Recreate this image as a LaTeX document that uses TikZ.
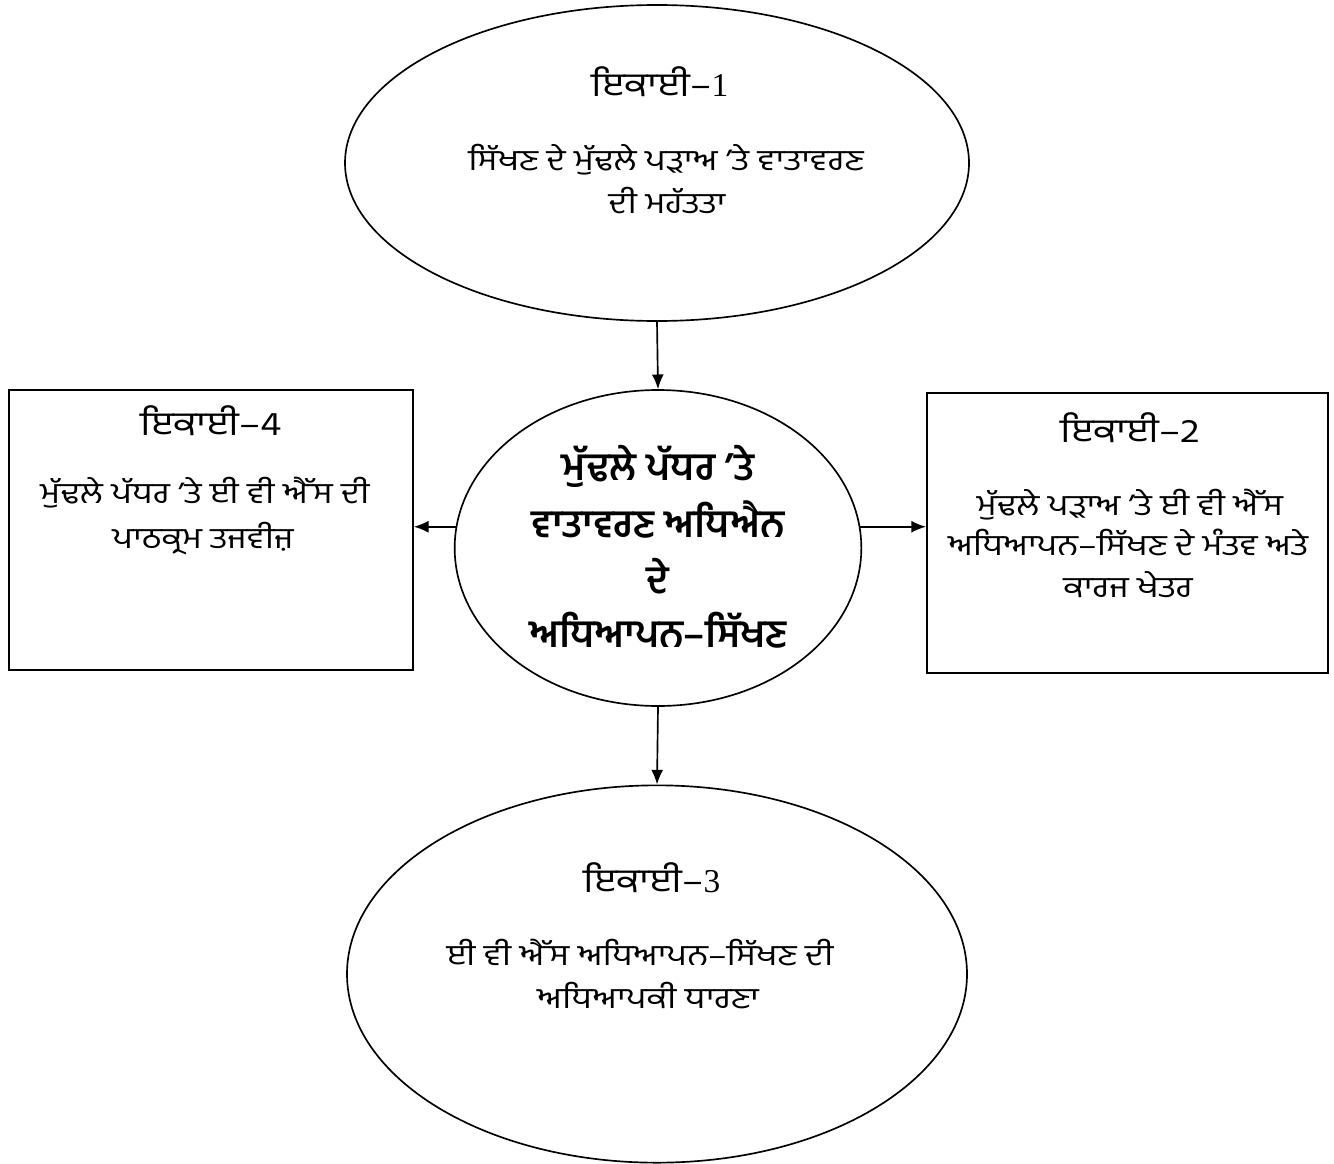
\documentclass[tikz,border=0pt]{standalone}
\usepackage{fontspec}
\setmainfont{Liberation Serif}
\newfontfamily\pa[Script=Gurmukhi,FakeStretch=1.18]{Hind Jalandhar}
\newfontfamily\pab[Script=Gurmukhi]{Hind Jalandhar}
\newfontfamily\ser{Liberation Serif}
\usetikzlibrary{shapes.geometric,arrows.meta}
\begin{document}
\begin{tikzpicture}[x=0.75pt,y=-0.75pt,
  ell/.style={draw,ellipse,line width=1.25pt,inner sep=0pt},
  boxx/.style={draw,rectangle,line width=1.25pt,inner sep=0pt},
  head/.style={font=\pa\fontsize{25}{30}\selectfont,inner sep=0pt,anchor=base},
  body/.style={font=\pa\fontsize{22}{26}\selectfont,inner sep=0pt,anchor=base},
  bold/.style={font=\pab\bfseries\fontsize{29}{33}\selectfont,inner sep=0pt,anchor=base},
  arr/.style={-{Latex[length=11pt,width=9pt]},line width=1.25pt}]
\useasboundingbox (0,0) rectangle (1334,1163);
% shapes
\node[ell,minimum width=468pt,minimum height=237pt] (u1) at (657,163) {};
\node[ell,minimum width=305pt,minimum height=237pt] (c) at (658,548) {};
\node[ell,minimum width=465pt,minimum height=283pt] (u3) at (657,974) {};
\node[boxx,minimum width=303pt,minimum height=210pt] (u4) at (211,530) {};
\node[boxx,minimum width=301pt,minimum height=210pt] (u2) at (1127.5,533) {};
% top
\node[head] (u1h) at (660,97) {ਇਕਾਈ–{\ser 1}};
\node[body] (u1a) at (666,170) {ਸਿੱਖਣ ਦੇ ਮੁੱਢਲੇ ਪੜਾਅ ’ਤੇ ਵਾਤਾਵਰਣ};
\node[body] (u1b) at (667,213) {ਦੀ ਮਹੱਤਤਾ};
% centre
\node[bold] (ca) at (658,480) {ਮੁੱਢਲੇ ਪੱਧਰ ’ਤੇ};
\node[bold] (cb) at (658,537) {ਵਾਤਾਵਰਣ ਅਧਿਐਨ};
\node[bold] (cc) at (658,593) {ਦੇ};
\node[bold] (cd) at (658,647) {ਅਧਿਆਪਨ–ਸਿੱਖਣ};
% left
\node[head] (u4h) at (211,435) {ਇਕਾਈ–4};
\node[body] (u4a) at (205,503) {ਮੁੱਢਲੇ ਪੱਧਰ ’ਤੇ ਈ ਵੀ ਐੱਸ ਦੀ};
\node[body] (u4b) at (203,548) {ਪਾਠਕ੍ਰਮ ਤਜਵੀਜ਼};
% right
\node[head] (u2h) at (1130,442) {ਇਕਾਈ–2};
\node[body] (u2a) at (1130,515) {ਮੁੱਢਲੇ ਪੜਾਅ ’ਤੇ ਈ ਵੀ ਐੱਸ};
\node[body] (u2b) at (1128,555) {ਅਧਿਆਪਨ–ਸਿੱਖਣ ਦੇ ਮੰਤਵ ਅਤੇ};
\node[body] (u2c) at (1128,597) {ਕਾਰਜ ਖੇਤਰ};
% bottom
\node[head] (u3h) at (652,892) {ਇਕਾਈ–{\ser 3}};
\node[body] (u3a) at (640,965) {ਈ ਵੀ ਐੱਸ ਅਧਿਆਪਨ–ਸਿੱਖਣ ਦੀ};
\node[body] (u3b) at (648,1008) {ਅਧਿਆਪਕੀ ਧਾਰਣਾ};
% arrows
\draw[arr] (u1.south) -- (c.north);
\draw[arr] (c.south) -- (u3.north);
\draw[arr] (c.174) -- (c.174 -| u4.east);
\draw[arr] (c.6) -- (c.6 -| u2.west);
\end{tikzpicture}
\end{document}
